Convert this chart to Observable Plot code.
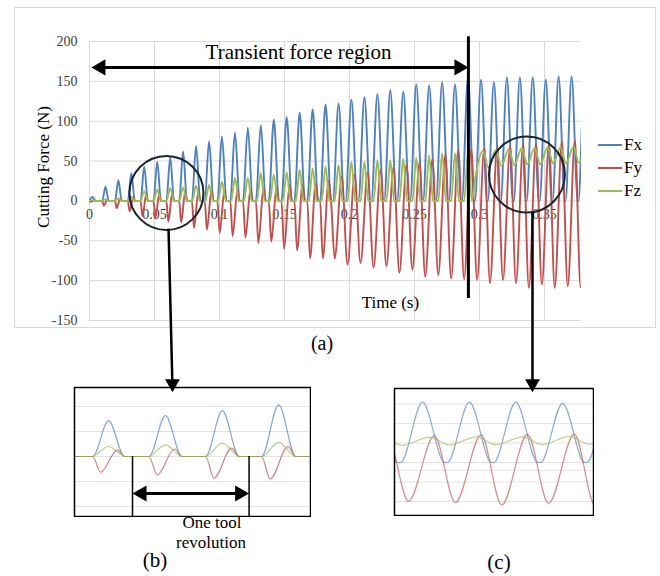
<!DOCTYPE html>
<html>
<head>
<meta charset="utf-8">
<script src="https://cdn.jsdelivr.net/npm/d3@7"></script>
<script src="https://cdn.jsdelivr.net/npm/@observablehq/plot@0.6"></script>
<style>
  html, body { margin: 0; padding: 0; background: #fff; }
  #wrap { position: relative; width: 660px; height: 576px; overflow: hidden;
          font-family: "Liberation Serif", "DejaVu Serif", "Times New Roman", serif; }
  .abs { position: absolute; }
  .lbl { position: absolute; color: #000; white-space: nowrap; transform: translate(-50%, -50%); line-height: 1; }
</style>
</head>
<body>
<div id="wrap"></div>
<script>
// ---------------- data ----------------
const seriesNames = ["Fx", "Fy", "Fz"];
// time (s) of each tool-tooth pass (Fx peak)
const cycleTime = [0.0023,0.0123,0.0222,0.0322,0.0421,0.0521,0.0621,0.0720,0.0820,0.0920,
                   0.1019,0.1119,0.1218,0.1318,0.1418,0.1517,0.1617,0.1717,0.1816,0.1916,
                   0.2015,0.2115,0.2215,0.2314,0.2414,0.2514,0.2613,0.2713,0.2812,0.2912,
                   0.3012,0.3111,0.3211,0.3311,0.3410,0.3510,0.3609,0.3709,0.3808];
const fxPeak   = [5,18,26,35,43,49,55,62,69,75, 81,86,92,95,102,105,111,115,121,122,
                  127,130,134,139,137,146,145,149,146,155, 152,149,155,155,155,152,156,156,156];
const fyTrough = [-1,-6,-9,-13,-19,-22,-26,-27,-34,-36, -40,-44,-46,-53,-51,-60,-62,-72,-72,-72,
                  -80,-78,-84,-82,-90,-86,-95,-93,-97,-98, -99,-103,-99,-103,-109,-105,-109,-107,-108];
const fyPeak   = [1,2,3,5,8,9,10,12,12,13, 13,14,15,17,18,20,21,22,25,30,
                  33,36,39,42,45,48,52,58,64,65, 66,67,69,71,72,73,75,76,76];
const fzPeak   = [1,2,3,5,12,14,16,17,19,20, 24,29,29,35,33,36,39,41,43,45,
                  49,49,51,51,53,54,57,60,60,61, 63,64,65,66,66,67,67,68,68];
const fzTrough = [0,0,0,0,0,0,0,0,0,0, 0,0,0,0,0,0,0,0,0,0,
                  0,0,0,0,0,0,0,0,0,0, 30,42,44,45,46,46,47,47,48];
// fraction of each cycle with no cutting (flat zero force)
const contactGap = [0.5,0.5,0.48,0.46,0.44,0.42,0.41,0.4,0.36,0.33, 0.3,0.28,0.26,0.24,0.22,0.2,0.19,0.17,0.16,0.13,
                    0.1,0.08,0.07,0.06,0.06,0.06,0.06,0.06,0.06,0.06, 0.06,0.06,0.06,0.06,0.06,0.06,0.06,0.06,0.06];

const xTicks = [0, 0.05, 0.1, 0.15, 0.2, 0.25, 0.3, 0.35];
const xTickLabels = ["0", "0.05", "0.1", "0.15", "0.2", "0.25", "0.3", "0.35"];
const yTicks = [200, 150, 100, 50, 0, -50, -100, -150];
const yTickLabels = ["200", "150", "100", "50", "0", "-50", "-100", "-150"];
const insetBGrid = [60, 30, 0, -30, -60];
const insetCGrid = [150, 100, 50, 0, -20, -50, -100];

// ---------------- build vertex table (peaks / troughs per cycle) ----------------
const P = cycleTime[1] - cycleTime[0];
const rows = {Fx: [], Fy: [], Fz: []};
cycleTime.forEach((t, k) => {
  const h = (1 - contactGap[k]) * P / 2;
  rows.Fx.push({t: t - h, v: 0}, {t, v: fxPeak[k]}, {t: t + h, v: 0});
  if (contactGap[k] >= 0.15) {
    rows.Fy.push({t: t - h, v: 0}, {t: t - 0.5 * h, v: fyTrough[k]}, {t: t + 0.55 * h, v: fyPeak[k]}, {t: t + h, v: 0});
  } else {
    rows.Fy.push({t: t - 0.3 * P, v: fyTrough[k]}, {t: t + 0.25 * P, v: fyPeak[k]});
  }
  if (fzTrough[k] === 0) {
    rows.Fz.push({t: t - 0.3 * P, v: 0}, {t, v: fzPeak[k]}, {t: t + 0.3 * P, v: 0});
  } else {
    rows.Fz.push({t: t - 0.43 * P, v: fzTrough[k]}, {t: t + 0.15 * P, v: fzPeak[k]});
  }
});

const colors = {Fx: "#4F81BD", Fy: "#C0504D", Fz: "#9BBB59"};
const serif = "'Liberation Serif', 'DejaVu Serif', 'Times New Roman', serif";

function seriesLines(width, opacity) {
  return seriesNames.map(s => Plot.line(rows[s], {
    x: "t", y: "v", stroke: colors[s], strokeWidth: width, strokeOpacity: opacity,
    curve: "monotone-x", clip: true
  }));
}

// ---------------- main chart ----------------
const A = {
  spanY: 167.5, spanL: 0.0015, spanR: 0.2915,
  vline: {t: 0.2915, top: 206, bottom: -122.5},
  c1: {t: 0.0592, v: 10}, c2: {t: 0.3365, v: 33},
  l1: {t1: 0.0608, v1: -35, t2: 0.0638, v2: -232, tip: -240},
  l2: {t1: 0.3408, v1: -13.75, t2: 0.3408, v2: -232, tip: -240}
};
const sh = 0.007;

const main = Plot.plot({
  width: 660, height: 576,
  marginLeft: 89, marginRight: 79, marginTop: 41, marginBottom: 256,
  x: {domain: [0, 0.3785], axis: null},
  y: {domain: [-150, 200], axis: null},
  style: {background: "transparent", fontFamily: serif, fontSize: "14px"},
  marks: [
    Plot.ruleY(yTicks, {stroke: "#d9d9d9", strokeWidth: 1}),
    Plot.ruleX(xTicks, {stroke: "#d9d9d9", strokeWidth: 1}),
    Plot.text(yTicks, {y: d => d, frameAnchor: "left", dx: -12, textAnchor: "end",
      text: (d, i) => yTickLabels[i], fill: "#404040", fontSize: 14}),
    Plot.text(xTicks, {x: d => d, y: 0, dy: 14, text: (d, i) => xTickLabels[i], fill: "#404040", fontSize: 14}),
    ...seriesLines(1.9, 1),
    // transient region arrow
    Plot.link([0], {x1: A.spanL + sh, x2: A.spanR - sh, y1: A.spanY, y2: A.spanY, stroke: "black", strokeWidth: 3}),
    Plot.dot([0], {x: A.spanL, y: A.spanY, symbol: "triangle", r: 6, rotate: -90, dx: 9.3, fill: "black", stroke: "none"}),
    Plot.dot([0], {x: A.spanR, y: A.spanY, symbol: "triangle", r: 6, rotate: 90, dx: -9.3, fill: "black", stroke: "none"}),
    Plot.ruleX([A.vline.t], {y1: A.vline.bottom, y2: A.vline.top, stroke: "black", strokeWidth: 3}),
    // circles
    Plot.dot([A.c1], {x: "t", y: "v", r: 37, fill: "none", stroke: "#1b2333", strokeWidth: 2}),
    Plot.dot([A.c2], {x: "t", y: "v", r: 38, fill: "none", stroke: "#1b2333", strokeWidth: 2}),
    // leader lines to insets
    Plot.link([A.l1, A.l2], {x1: "t1", y1: "v1", x2: "t2", y2: "v2", stroke: "black", strokeWidth: 2.5}),
    Plot.dot([A.l1, A.l2], {x: "t2", y: "tip", symbol: "triangle", r: 5.5, rotate: 180, dy: -8.6, fill: "black", stroke: "none"}),
    // texts
    Plot.text(["Transient force region"], {x: 0.1608, y: 186, fontSize: 21, fill: "black"}),
    Plot.text(["Time (s)"], {x: 0.2315, y: -127, fontSize: 17, fill: "black"}),
    Plot.text(["Cutting Force (N)"], {y: 42.5, frameAnchor: "left", dx: -46, rotate: -90, textAnchor: "middle", fontSize: 17, fill: "black"})
  ]
});
main.classList.add("abs");
main.style.left = "0px"; main.style.top = "0px";

// ---------------- inset (b) ----------------
const B = {x1: 0.0463, x2: 0.0668, arrowY: -44.4, bottom: -72};
const insetB = Plot.plot({
  width: 238, height: 131, margin: 1,
  x: {domain: [0.0361, 0.0776], axis: null},
  y: {domain: [-72, 82.8], axis: null},
  style: {background: "transparent"},
  marks: [
    Plot.ruleY(insetBGrid, {stroke: "#e4e4e4", strokeWidth: 1}),
    ...seriesLines(1.2, 0.7),
    Plot.ruleX([B.x1, B.x2], {y1: 0, y2: B.bottom, stroke: "black", strokeWidth: 1.5}),
    Plot.link([0], {x1: B.x1 + 0.0015, x2: B.x2 - 0.0015, y1: B.arrowY, y2: B.arrowY, stroke: "black", strokeWidth: 3}),
    Plot.dot([0], {x: B.x1, y: B.arrowY, symbol: "triangle", r: 6, rotate: -90, dx: 9.3, fill: "black", stroke: "none"}),
    Plot.dot([0], {x: B.x2, y: B.arrowY, symbol: "triangle", r: 6, rotate: 90, dx: -9.3, fill: "black", stroke: "none"}),
    Plot.frame({stroke: "black", strokeWidth: 1.5})
  ]
});
insetB.classList.add("abs");
insetB.style.left = "73px"; insetB.style.top = "386px";

// ---------------- inset (c) ----------------
const insetC = Plot.plot({
  width: 201, height: 129, margin: 1,
  x: {domain: [0.3151, 0.3576], axis: null},
  y: {domain: [-136, 190], axis: null},
  style: {background: "transparent"},
  marks: [
    Plot.ruleY(insetCGrid, {stroke: "#e4e4e4", strokeWidth: 1}),
    ...seriesLines(1.2, 0.65),
    Plot.frame({stroke: "black", strokeWidth: 1.5})
  ]
});
insetC.classList.add("abs");
insetC.style.left = "393px"; insetC.style.top = "387px";

// ---------------- page assembly ----------------
const wrap = document.getElementById("wrap");
const border = document.createElement("div");
border.className = "abs";
Object.assign(border.style, {left: "14px", top: "7px", width: "640px", height: "319px", border: "1px solid #d9d9d9"});
wrap.appendChild(border);
wrap.appendChild(main);
wrap.appendChild(insetB);
wrap.appendChild(insetC);

// legend
seriesNames.forEach((s, i) => {
  const y = 145 + i * 23;
  const ln = document.createElement("div");
  ln.className = "abs";
  Object.assign(ln.style, {left: "598px", top: (y - 1) + "px", width: "24px", height: "2px", background: colors[s]});
  wrap.appendChild(ln);
  const tx = document.createElement("div");
  tx.className = "abs";
  Object.assign(tx.style, {left: "624px", top: (y - 9) + "px", fontSize: "17px", lineHeight: "18px", color: "#000"});
  tx.textContent = s;
  wrap.appendChild(tx);
});

// captions
const captions = [
  {text: "(a)", x: 322, y: 343, size: 20},
  {text: "One tool", x: 212, y: 522, size: 17},
  {text: "revolution", x: 211, y: 542, size: 17},
  {text: "(b)", x: 155, y: 560, size: 21},
  {text: "(c)", x: 499, y: 562, size: 21}
];
captions.forEach(c => {
  const d = document.createElement("div");
  d.className = "lbl";
  Object.assign(d.style, {left: c.x + "px", top: c.y + "px", fontSize: c.size + "px"});
  d.textContent = c.text;
  wrap.appendChild(d);
});
</script>
</body>
</html>
